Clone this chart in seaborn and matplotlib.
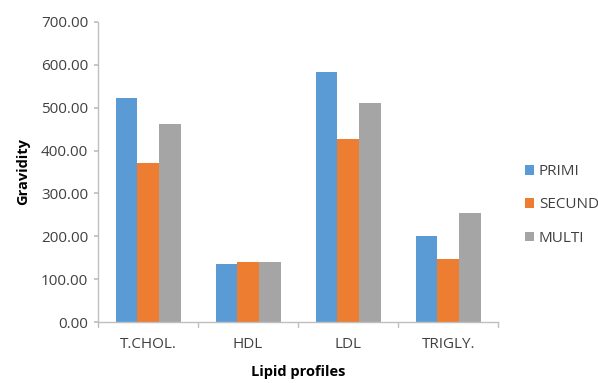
import matplotlib
matplotlib.use("Agg")
import matplotlib.pyplot as plt
import seaborn as sns
import pandas as pd
import numpy as np
from matplotlib.patches import Patch

categories = ["T.CHOL.", "HDL", "LDL", "TRIGLY."]
series = ["PRIMI", "SECUND", "MULTI"]
primi = [522, 136, 582, 201]
secund = [371, 140, 428, 147]
multi = [462, 140, 511, 255]
colors = ["#5B9BD5", "#ED7D31", "#A5A5A5"]

rows = []
for s, vals in zip(series, [primi, secund, multi]):
    for c, v in zip(categories, vals):
        rows.append({"cat": c, "series": s, "value": v})
df = pd.DataFrame(rows)

sns.set_theme(style="white")
plt.rcParams['font.family'] = ['Open Sans', 'DejaVu Sans']

fig = plt.figure(figsize=(5.98, 3.83), dpi=100)
ax = fig.add_axes([0.164, 0.159, 0.669, 0.784])
sns.barplot(data=df, x="cat", y="value", hue="series", palette=colors,
            order=categories, hue_order=series, width=0.65, saturation=1,
            linewidth=0, edgecolor="none", ax=ax, legend=False)

ax.set_ylim(0, 700)
ax.set_xlim(-0.5, 3.5)
ax.set_yticks(np.arange(0, 701, 100))
ax.set_yticklabels([f"{v:.2f}" for v in np.arange(0, 701, 100)], fontsize=11, color="#404040")
ax.set_xticks(range(4))
ax.set_xticklabels(categories, fontsize=11, color="#404040")
ax.tick_params(axis="x", length=0, pad=11)
ax.tick_params(axis="y", length=3, color="#BFBFBF", left=True, pad=4)
for b in [-0.5, 0.5, 1.5, 2.5, 3.5]:
    ax.plot([b, b], [0, -0.015], transform=ax.get_xaxis_transform(), color="#BFBFBF", lw=1, clip_on=False)

for side in ["top", "right"]:
    ax.spines[side].set_visible(False)
for side in ["left", "bottom"]:
    ax.spines[side].set_color("#BFBFBF")
    ax.spines[side].set_linewidth(1)

ax.set_ylabel("Gravidity", fontsize=10.5, fontweight="bold", color="black", labelpad=8)
ax.set_xlabel("Lipid profiles", fontsize=10.5, fontweight="bold", color="black", labelpad=9)

handles = [Patch(facecolor=c, edgecolor="none") for c in colors]
fig.legend(handles, series, loc="center left", bbox_to_anchor=(0.855, 0.465),
           frameon=False, fontsize=11, handlelength=0.6, handleheight=0.6,
           handletextpad=0.3, labelspacing=1.2, labelcolor="#404040")

fig.savefig("out.png", dpi=100)
